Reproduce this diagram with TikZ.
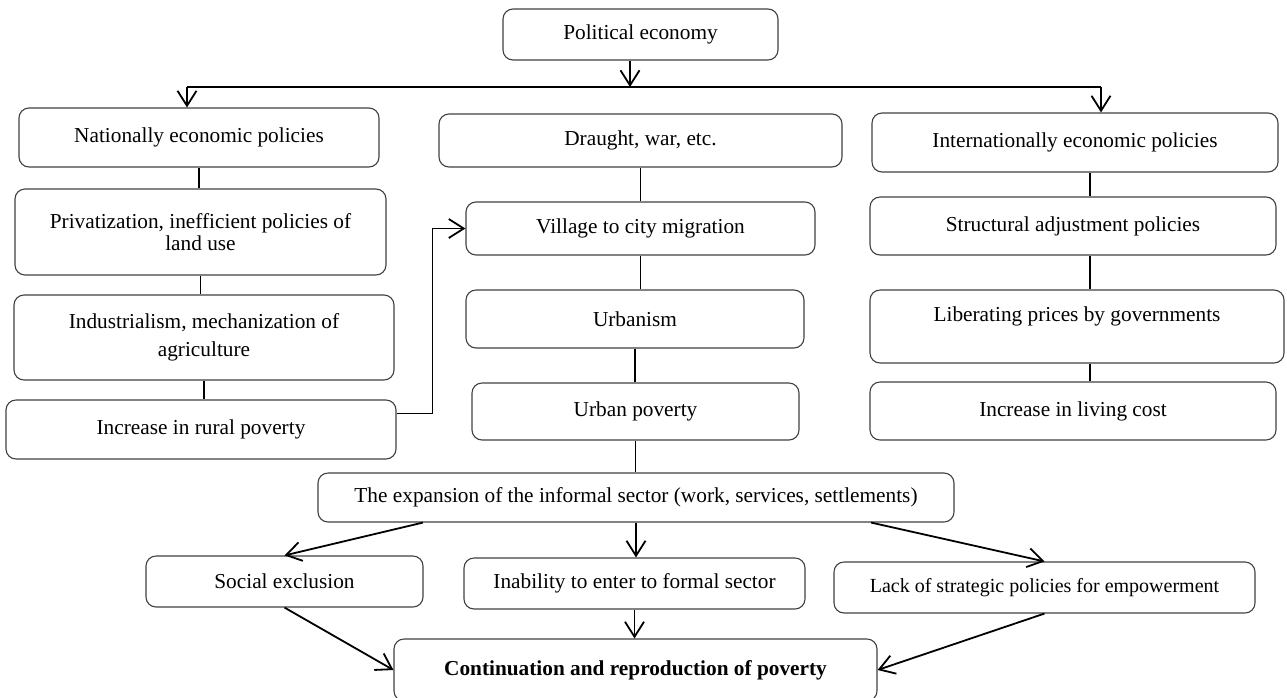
\documentclass[tikz,border=0pt]{standalone}
\usepackage{fontspec}
\setmainfont{Liberation Serif}
\usetikzlibrary{arrows.meta}

\begin{document}
\begin{tikzpicture}[x=1pt,y=-1pt,
    box/.style 2 args={rectangle, rounded corners=10pt, draw=black!75, line width=1.1pt,
      inner sep=0pt, align=center, font=\fontsize{21.3}{25}\selectfont,
      minimum width=#1, minimum height=#2},
    link/.style={line width=1.8pt},
    flow/.style={link, -{Straight Barb[length=15pt,width=19pt]}}]
      \useasboundingbox (0,0) rectangle (1287,697);

      \node[box={275}{51}] (pol) at (640.5,34.5) {Political economy};

      \node[box={360}{59}] (nat) at (199,137.5) {Nationally economic policies};
      \node[box={403}{53}] (dra) at (640.5,140.5) {Draught, war, etc.};
      \node[box={406}{59}] (intl) at (1075,142.5) {Internationally economic policies};

      \node[box={371}{86}] (priv) at (200.5,232) {Privatization, inefficient policies of\\[-3pt]land use};
      \node[box={380}{85}] (ind) at (204,337.5) {Industrialism, mechanization of\\[3pt]agriculture};
      \node[box={390}{59}] (rur) at (201,429.5) {Increase in rural poverty};

      \node[box={349}{53}] (vil) at (640.5,228.5) {Village to city migration};
      \node[box={338}{58}] (urb) at (635,319) {Urbanism};
      \node[box={327}{57}] (upov) at (635.5,411.5) {Urban poverty};

      \node[box={406}{58}] (stru) at (1073,226) {Structural adjustment policies};
      \node[box={414}{73}, text depth=24pt] (lib) at (1077,326.5) {Liberating prices by governments};
      \node[box={406}{58}] (liv) at (1073,411) {Increase in living cost};

      \node[box={636}{49}] (exp) at (636,497.5) {The expansion of the informal sector (work, services, settlements)};

      \node[box={277}{51}] (soc) at (284.5,581.5) {Social exclusion};
      \node[box={341}{51}] (inab) at (634.5,583.5) {Inability to enter to formal sector};
      \node[box={421}{51}, font=\fontsize{20}{24}\selectfont] (lack) at (1044.5,587.5) {Lack of strategic policies for empowerment};

      \node[box={483}{62}, font=\fontsize{21.3}{25}\selectfont\bfseries] (cont) at (635.5,670) {Continuation and reproduction of poverty};

      \coordinate (barL) at (187,87);
      \coordinate (barR) at (1101,87);
      \coordinate (rcol) at (1090,0);

      \draw[flow] ([xshift=-10.5pt]pol.south) -- ([xshift=-10.5pt]pol.south |- barL);
      \draw[link] (barL) -- (barR);
      \draw[flow] (barL) -- (barL |- nat.north);
      \draw[flow] (barR) -- (barR |- intl.north);

      \draw[link] (nat.south) -- (nat.south |- priv.north);
      \draw[link] (priv.south) -- (priv.south |- ind.north);
      \draw[link] (ind.south) -- (ind.south |- rur.north);

      \draw[link] (dra.south) -- (dra.south |- vil.north);
      \draw[link] (vil.south) -- (vil.south |- urb.north);
      \draw[link] (urb.south) -- (urb.south |- upov.north);
      \draw[link] (upov.south) -- (upov.south |- exp.north);

      \draw[link] (intl.south -| rcol) -- (stru.north -| rcol);
      \draw[link] (stru.south -| rcol) -- (lib.north -| rcol);
      \draw[link] (lib.south -| rcol) -- (liv.north -| rcol);

      \draw[flow] ([yshift=16pt]rur.east) -- ++(36,0) |- (vil.west);

      \draw[flow] ([xshift=-213pt]exp.south) -- (soc.north);
      \draw[flow] (exp.south) -- (exp.south |- inab.north);
      \draw[flow] ([xshift=235pt]exp.south) -- (lack.north);

      \draw[flow] (soc.south) -- (cont.west);
      \draw[flow] (inab.south) -- (inab.south |- cont.north);
      \draw[flow] (lack.south) -- (cont.east);
    \end{tikzpicture}
\end{document}
